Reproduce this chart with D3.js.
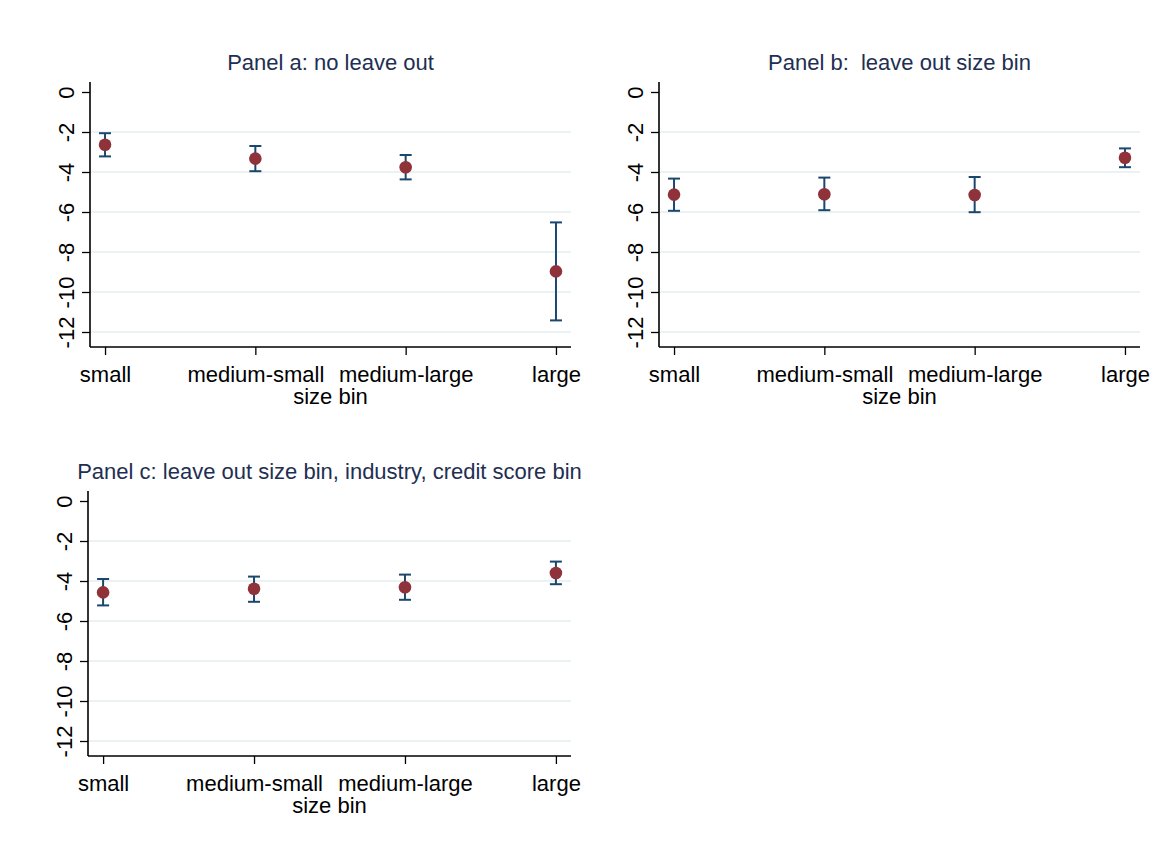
<!DOCTYPE html>
<html>
<head>
<meta charset="utf-8">
<script src="https://cdn.jsdelivr.net/npm/d3@7"></script>
<style>
  body { margin: 0; background: #ffffff; }
  svg { display: block; }
  text { font-family: "Liberation Sans", Arial, sans-serif; white-space: pre; }
</style>
</head>
<body>
<svg id="chart" width="1174" height="854"></svg>
<script>
// categories and ticks
var categories = ['small', 'medium-small', 'medium-large', 'large'];
var y_ticks = [0, -2, -4, -6, -8, -10, -12];

// panel a: no leave out
var est_a = [-2.64, -3.33, -3.76, -8.97];
var lo_a = [-3.22, -3.96, -4.37, -11.42];
var hi_a = [-2.06, -2.70, -3.15, -6.52];

// panel b: leave out size bin
var est_b = [-5.13, -5.11, -5.15, -3.29];
var lo_b = [-5.94, -5.91, -6.01, -3.76];
var hi_b = [-4.33, -4.28, -4.25, -2.82];

// panel c: leave out size bin, industry, credit score bin
var est_c = [-4.57, -4.39, -4.31, -3.60];
var lo_c = [-5.22, -5.04, -4.94, -4.16];
var hi_c = [-3.90, -3.78, -3.68, -3.03];

var titles = ['Panel a: no leave out', 'Panel b:  leave out size bin',
	'Panel c: leave out size bin, industry, credit score bin'];

var panels = [
	{'title': titles[0], 'est': est_a, 'lo': lo_a, 'hi': hi_a, 'left': 90, 'right': 571, 'top': 82},
	{'title': titles[1], 'est': est_b, 'lo': lo_b, 'hi': hi_b, 'left': 659, 'right': 1140, 'top': 82},
	{'title': titles[2], 'est': est_c, 'lo': lo_c, 'hi': hi_c, 'left': 88, 'right': 571, 'top': 491}
];

var col_title = '#1e2f52';
var col_point = '#8f3239';
var col_bar = '#1a476f';
var col_grid = '#eaf2f3';
var font_size = '22px';

var svg = d3.select('#chart');

function draw_panel(p) {
	var y_domain = [-12.75, 0.5];
	var height = 265;

	var x_conv = d3.scalePoint()
		.domain(categories)
		.range([p.left, p.right])
		.padding(0.1);

	var y_conv = d3.scaleLinear()
		.domain(y_domain)
		.range([p.top + height, p.top]);

	var g = svg.append('g');

	// gridlines (none at the top tick)
	g.selectAll('line.grid')
		.data(y_ticks.filter(function(d) { return d != 0; })).enter()
		.append('line')
		.attr('x1', p.left + 1)
		.attr('x2', p.right)
		.attr('y1', function(d) { return y_conv(d); })
		.attr('y2', function(d) { return y_conv(d); })
		.attr('stroke', col_grid)
		.attr('stroke-width', 2);

	// y axis
	var y_axis = d3.axisLeft(y_conv)
		.tickValues(y_ticks)
		.tickSize(8)
		.tickFormat(d3.format('d'));

	var ya = g.append('g')
		.attr('transform', 'translate(' + p.left + ',0)')
		.call(y_axis);
	ya.select('.domain').attr('d', 'M0,' + y_conv(y_domain[1]) + 'V' + y_conv(y_domain[0]));
	ya.selectAll('line').attr('stroke', '#000').attr('stroke-width', 1.3);
	ya.select('.domain').attr('stroke', '#000').attr('stroke-width', 1.6);
	ya.selectAll('text')
		.attr('x', null).attr('dy', null)
		.attr('transform', 'translate(-16,0) rotate(-90)')
		.attr('text-anchor', 'middle')
		.attr('font-size', font_size)
		.attr('font-family', '"Liberation Sans", Arial, sans-serif')
		.attr('fill', '#000')
		.text(function(d) { return d; });

	// x axis
	var x_axis = d3.axisBottom(x_conv)
		.tickSize(8)
		.tickSizeOuter(0);

	var xa = g.append('g')
		.attr('transform', 'translate(0,' + y_conv(y_domain[0]) + ')')
		.call(x_axis);
	xa.select('.domain').attr('d', 'M' + p.left + ',0H' + p.right)
		.attr('stroke', '#000').attr('stroke-width', 1.6);
	xa.selectAll('line').attr('stroke', '#000').attr('stroke-width', 1.3);
	xa.selectAll('text')
		.attr('y', 35).attr('dy', null)
		.attr('font-size', font_size)
		.attr('font-family', '"Liberation Sans", Arial, sans-serif')
		.attr('fill', '#000');

	// axis title
	g.append('text')
		.attr('x', (p.left + p.right) / 2)
		.attr('y', y_conv(y_domain[0]) + 57)
		.attr('text-anchor', 'middle')
		.attr('font-size', font_size)
		.attr('fill', '#000')
		.text('size bin');

	// panel title
	g.append('text')
		.attr('x', (p.left + p.right) / 2)
		.attr('y', p.top - 12)
		.attr('text-anchor', 'middle')
		.attr('font-size', font_size)
		.attr('fill', col_title)
		.text(p.title);

	// error bars
	var cap = 6;
	var bars = g.selectAll('g.bar')
		.data(categories).enter()
		.append('g')
		.attr('class', 'bar');

	bars.append('line')
		.attr('x1', function(d) { return x_conv(d); })
		.attr('x2', function(d) { return x_conv(d); })
		.attr('y1', function(d, i) { return y_conv(p.lo[i]); })
		.attr('y2', function(d, i) { return y_conv(p.hi[i]); })
		.attr('stroke', col_bar).attr('stroke-width', 2);
	bars.append('line')
		.attr('x1', function(d) { return x_conv(d) - cap; })
		.attr('x2', function(d) { return x_conv(d) + cap; })
		.attr('y1', function(d, i) { return y_conv(p.lo[i]); })
		.attr('y2', function(d, i) { return y_conv(p.lo[i]); })
		.attr('stroke', col_bar).attr('stroke-width', 2);
	bars.append('line')
		.attr('x1', function(d) { return x_conv(d) - cap; })
		.attr('x2', function(d) { return x_conv(d) + cap; })
		.attr('y1', function(d, i) { return y_conv(p.hi[i]); })
		.attr('y2', function(d, i) { return y_conv(p.hi[i]); })
		.attr('stroke', col_bar).attr('stroke-width', 2);

	// points
	g.selectAll('circle.pt')
		.data(categories).enter()
		.append('circle')
		.attr('cx', function(d) { return x_conv(d); })
		.attr('cy', function(d, i) { return y_conv(p.est[i]); })
		.attr('r', 6.3)
		.attr('fill', col_point);
}

panels.forEach(draw_panel);
</script>
</body>
</html>
